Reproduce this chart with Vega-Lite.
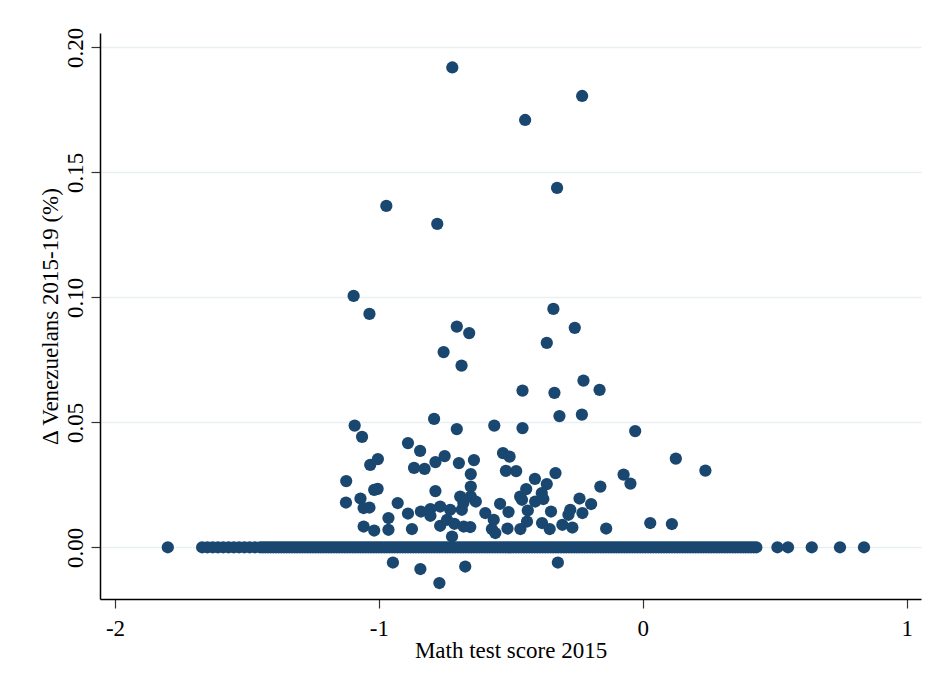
{
  "$schema": "https://vega.github.io/schema/vega-lite/v6.json",
  "autosize": "none",
  "width": 821,
  "height": 566,
  "padding": {"left": 100, "top": 33, "right": 12, "bottom": 83},
  "background": "white",
  "config": {
    "view": {"stroke": null},
    "font": "Liberation Serif",
    "axis": {
      "labelFont": "Liberation Serif",
      "titleFont": "Liberation Serif",
      "labelFontSize": 23,
      "titleFontSize": 23,
      "titleFontWeight": "normal",
      "labelColor": "black",
      "titleColor": "black",
      "domainColor": "black",
      "domainWidth": 1.5,
      "tickColor": "#333333",
      "tickWidth": 1.2,
      "tickSize": 9,
      "labelPadding": 9
    }
  },
  "data": {
    "values": [
      {"m": -0.722, "v": 0.192}, {"m": -0.230, "v": 0.1806}, {"m": -0.446, "v": 0.171}, {"m": -0.325, "v": 0.1438},
      {"m": -0.972, "v": 0.1366}, {"m": -0.779, "v": 0.1294}, {"m": -1.096, "v": 0.1006}, {"m": -1.036, "v": 0.0934},
      {"m": -0.339, "v": 0.0954}, {"m": -0.705, "v": 0.0883}, {"m": -0.658, "v": 0.0857}, {"m": -0.755, "v": 0.0781},
      {"m": -0.687, "v": 0.0727}, {"m": -0.258, "v": 0.0878}, {"m": -0.364, "v": 0.0818}, {"m": -0.225, "v": 0.0667},
      {"m": -0.456, "v": 0.0627}, {"m": -0.335, "v": 0.0618}, {"m": -0.164, "v": 0.063}, {"m": -0.316, "v": 0.0525},
      {"m": -0.231, "v": 0.0531}, {"m": -0.791, "v": 0.0514}, {"m": -1.092, "v": 0.0487}, {"m": -1.064, "v": 0.0442},
      {"m": -0.705, "v": 0.0473}, {"m": -0.563, "v": 0.0487}, {"m": -0.456, "v": 0.0477}, {"m": -0.029, "v": 0.0465},
      {"m": 0.125, "v": 0.0355}, {"m": 0.237, "v": 0.0307}, {"m": -0.890, "v": 0.0417}, {"m": -0.844, "v": 0.0386},
      {"m": -1.033, "v": 0.033}, {"m": -1.004, "v": 0.0353}, {"m": -0.867, "v": 0.0318}, {"m": -0.827, "v": 0.0314},
      {"m": -0.786, "v": 0.0341}, {"m": -0.751, "v": 0.0365}, {"m": -0.697, "v": 0.0337}, {"m": -0.640, "v": 0.0349},
      {"m": -0.652, "v": 0.0293}, {"m": -0.530, "v": 0.0377}, {"m": -0.505, "v": 0.0363}, {"m": -0.519, "v": 0.0306},
      {"m": -0.480, "v": 0.0305}, {"m": -0.331, "v": 0.0297}, {"m": -0.409, "v": 0.0274}, {"m": -0.364, "v": 0.0253},
      {"m": -0.161, "v": 0.0243}, {"m": -0.073, "v": 0.0291}, {"m": -0.047, "v": 0.0255}, {"m": -1.124, "v": 0.0265},
      {"m": -1.018, "v": 0.023}, {"m": -1.005, "v": 0.0234}, {"m": -1.125, "v": 0.0179}, {"m": -1.070, "v": 0.0195},
      {"m": -1.058, "v": 0.0157}, {"m": -1.036, "v": 0.0159}, {"m": -0.929, "v": 0.0177}, {"m": -0.890, "v": 0.0135},
      {"m": -0.841, "v": 0.0143}, {"m": -0.805, "v": 0.0153}, {"m": -0.805, "v": 0.0126}, {"m": -0.786, "v": 0.0225},
      {"m": -0.768, "v": 0.0163}, {"m": -0.730, "v": 0.015}, {"m": -0.692, "v": 0.0203}, {"m": -0.680, "v": 0.0177},
      {"m": -0.652, "v": 0.0243}, {"m": -0.652, "v": 0.0203}, {"m": -0.633, "v": 0.0183}, {"m": -0.686, "v": 0.015},
      {"m": -0.597, "v": 0.0137}, {"m": -0.541, "v": 0.0174}, {"m": -0.509, "v": 0.0141}, {"m": -0.565, "v": 0.011},
      {"m": -0.465, "v": 0.0203}, {"m": -0.458, "v": 0.019}, {"m": -0.442, "v": 0.0233}, {"m": -0.383, "v": 0.0217},
      {"m": -0.377, "v": 0.0193}, {"m": -0.408, "v": 0.0183}, {"m": -0.436, "v": 0.0147}, {"m": -0.348, "v": 0.0143},
      {"m": -0.275, "v": 0.015}, {"m": -0.240, "v": 0.0195}, {"m": -0.196, "v": 0.0173}, {"m": -0.229, "v": 0.0137},
      {"m": -0.282, "v": 0.013}, {"m": -1.058, "v": 0.0083}, {"m": -1.018, "v": 0.0067}, {"m": -0.964, "v": 0.0117},
      {"m": -0.964, "v": 0.007}, {"m": -0.875, "v": 0.0073}, {"m": -0.768, "v": 0.0086}, {"m": -0.742, "v": 0.011},
      {"m": -0.714, "v": 0.0094}, {"m": -0.654, "v": 0.0081}, {"m": -0.679, "v": 0.0083}, {"m": -0.572, "v": 0.0073},
      {"m": -0.559, "v": 0.0057}, {"m": -0.513, "v": 0.0075}, {"m": -0.464, "v": 0.0073}, {"m": -0.439, "v": 0.0103},
      {"m": -0.382, "v": 0.0097}, {"m": -0.353, "v": 0.0073}, {"m": -0.305, "v": 0.009}, {"m": -0.267, "v": 0.0079},
      {"m": -0.139, "v": 0.0075}, {"m": 0.028, "v": 0.0097}, {"m": 0.110, "v": 0.0093}, {"m": -0.723, "v": 0.0043},
      {"m": -0.947, "v": -0.0061}, {"m": -0.843, "v": -0.0087}, {"m": -0.771, "v": -0.0143}, {"m": -0.673, "v": -0.0077},
      {"m": -0.322, "v": -0.0061},
      {"m": -1.80, "v": 0}, {"m": -1.67, "v": 0}, {"m": -1.65, "v": 0}, {"m": -1.63, "v": 0}, {"m": -1.61, "v": 0},
      {"m": -1.59, "v": 0}, {"m": -1.57, "v": 0}, {"m": -1.55, "v": 0}, {"m": -1.53, "v": 0}, {"m": -1.51, "v": 0},
      {"m": -1.49, "v": 0}, {"m": -1.47, "v": 0}, {"m": -1.45, "v": 0}, {"m": -1.43, "v": 0}, {"m": -1.41, "v": 0},
      {"m": -1.39, "v": 0}, {"m": -1.37, "v": 0}, {"m": -1.35, "v": 0}, {"m": -1.33, "v": 0}, {"m": -1.31, "v": 0},
      {"m": -1.29, "v": 0}, {"m": -1.27, "v": 0}, {"m": -1.25, "v": 0}, {"m": -1.23, "v": 0}, {"m": -1.21, "v": 0},
      {"m": -1.19, "v": 0}, {"m": -1.17, "v": 0}, {"m": -1.15, "v": 0}, {"m": -1.13, "v": 0}, {"m": -1.11, "v": 0},
      {"m": -1.09, "v": 0}, {"m": -1.07, "v": 0}, {"m": -1.05, "v": 0}, {"m": -1.03, "v": 0}, {"m": -1.01, "v": 0},
      {"m": -0.99, "v": 0}, {"m": -0.97, "v": 0}, {"m": -0.95, "v": 0}, {"m": -0.93, "v": 0}, {"m": -0.91, "v": 0},
      {"m": -0.89, "v": 0}, {"m": -0.87, "v": 0}, {"m": -0.85, "v": 0}, {"m": -0.83, "v": 0}, {"m": -0.81, "v": 0},
      {"m": -0.79, "v": 0}, {"m": -0.77, "v": 0}, {"m": -0.75, "v": 0}, {"m": -0.73, "v": 0}, {"m": -0.71, "v": 0},
      {"m": -0.69, "v": 0}, {"m": -0.67, "v": 0}, {"m": -0.65, "v": 0}, {"m": -0.63, "v": 0}, {"m": -0.61, "v": 0},
      {"m": -0.59, "v": 0}, {"m": -0.57, "v": 0}, {"m": -0.55, "v": 0}, {"m": -0.53, "v": 0}, {"m": -0.51, "v": 0},
      {"m": -0.49, "v": 0}, {"m": -0.47, "v": 0}, {"m": -0.45, "v": 0}, {"m": -0.43, "v": 0}, {"m": -0.41, "v": 0},
      {"m": -0.39, "v": 0}, {"m": -0.37, "v": 0}, {"m": -0.35, "v": 0}, {"m": -0.33, "v": 0}, {"m": -0.31, "v": 0},
      {"m": -0.29, "v": 0}, {"m": -0.27, "v": 0}, {"m": -0.25, "v": 0}, {"m": -0.23, "v": 0}, {"m": -0.21, "v": 0},
      {"m": -0.19, "v": 0}, {"m": -0.17, "v": 0}, {"m": -0.15, "v": 0}, {"m": -0.13, "v": 0}, {"m": -0.11, "v": 0},
      {"m": -0.09, "v": 0}, {"m": -0.07, "v": 0}, {"m": -0.05, "v": 0}, {"m": -0.03, "v": 0}, {"m": -0.01, "v": 0},
      {"m": 0.01, "v": 0}, {"m": 0.03, "v": 0}, {"m": 0.05, "v": 0}, {"m": 0.07, "v": 0}, {"m": 0.09, "v": 0},
      {"m": 0.11, "v": 0}, {"m": 0.13, "v": 0}, {"m": 0.15, "v": 0}, {"m": 0.17, "v": 0}, {"m": 0.19, "v": 0},
      {"m": 0.21, "v": 0}, {"m": 0.23, "v": 0}, {"m": 0.25, "v": 0}, {"m": 0.27, "v": 0}, {"m": 0.29, "v": 0},
      {"m": 0.31, "v": 0}, {"m": 0.33, "v": 0}, {"m": 0.35, "v": 0}, {"m": 0.37, "v": 0}, {"m": 0.39, "v": 0},
      {"m": 0.41, "v": 0}, {"m": 0.43, "v": 0},
      {"m": -1.44, "v": 0}, {"m": -1.42, "v": 0}, {"m": -1.40, "v": 0}, {"m": -1.38, "v": 0}, {"m": -1.36, "v": 0},
      {"m": -1.34, "v": 0}, {"m": -1.32, "v": 0}, {"m": -1.30, "v": 0}, {"m": -1.28, "v": 0}, {"m": -1.26, "v": 0},
      {"m": -1.24, "v": 0}, {"m": -1.22, "v": 0}, {"m": -1.20, "v": 0}, {"m": -1.18, "v": 0}, {"m": -1.16, "v": 0},
      {"m": -1.14, "v": 0}, {"m": -1.12, "v": 0}, {"m": -1.10, "v": 0}, {"m": -1.08, "v": 0}, {"m": -1.06, "v": 0},
      {"m": -1.04, "v": 0}, {"m": -1.02, "v": 0}, {"m": -1.00, "v": 0}, {"m": -0.98, "v": 0}, {"m": -0.96, "v": 0},
      {"m": -0.94, "v": 0}, {"m": -0.92, "v": 0}, {"m": -0.90, "v": 0}, {"m": -0.88, "v": 0}, {"m": -0.86, "v": 0},
      {"m": -0.84, "v": 0}, {"m": -0.82, "v": 0}, {"m": -0.80, "v": 0}, {"m": -0.78, "v": 0}, {"m": -0.76, "v": 0},
      {"m": -0.74, "v": 0}, {"m": -0.72, "v": 0}, {"m": -0.70, "v": 0}, {"m": -0.68, "v": 0}, {"m": -0.66, "v": 0},
      {"m": -0.64, "v": 0}, {"m": -0.62, "v": 0}, {"m": -0.60, "v": 0}, {"m": -0.58, "v": 0}, {"m": -0.56, "v": 0},
      {"m": -0.54, "v": 0}, {"m": -0.52, "v": 0}, {"m": -0.50, "v": 0}, {"m": -0.48, "v": 0}, {"m": -0.46, "v": 0},
      {"m": -0.44, "v": 0}, {"m": -0.42, "v": 0}, {"m": -0.40, "v": 0}, {"m": -0.38, "v": 0}, {"m": -0.36, "v": 0},
      {"m": -0.34, "v": 0}, {"m": -0.32, "v": 0}, {"m": -0.30, "v": 0}, {"m": -0.28, "v": 0}, {"m": -0.26, "v": 0},
      {"m": -0.24, "v": 0}, {"m": -0.22, "v": 0}, {"m": -0.20, "v": 0}, {"m": -0.18, "v": 0}, {"m": -0.16, "v": 0},
      {"m": -0.14, "v": 0}, {"m": -0.12, "v": 0}, {"m": -0.10, "v": 0}, {"m": -0.08, "v": 0}, {"m": -0.06, "v": 0},
      {"m": -0.04, "v": 0}, {"m": -0.02, "v": 0}, {"m": 0.00, "v": 0}, {"m": 0.02, "v": 0}, {"m": 0.04, "v": 0},
      {"m": 0.06, "v": 0}, {"m": 0.08, "v": 0}, {"m": 0.10, "v": 0}, {"m": 0.12, "v": 0}, {"m": 0.14, "v": 0},
      {"m": 0.16, "v": 0}, {"m": 0.18, "v": 0}, {"m": 0.20, "v": 0}, {"m": 0.22, "v": 0}, {"m": 0.24, "v": 0},
      {"m": 0.26, "v": 0}, {"m": 0.28, "v": 0}, {"m": 0.30, "v": 0}, {"m": 0.32, "v": 0}, {"m": 0.34, "v": 0},
      {"m": 0.36, "v": 0}, {"m": 0.38, "v": 0}, {"m": 0.40, "v": 0}, {"m": 0.42, "v": 0},
      {"m": 0.51, "v": 0}, {"m": 0.55, "v": 0}, {"m": 0.64, "v": 0}, {"m": 0.747, "v": 0}, {"m": 0.838, "v": 0}
    ]
  },
  "mark": {"type": "point", "filled": true, "shape": "circle", "size": 150, "color": "#1a476f", "opacity": 1},
  "encoding": {
    "x": {
      "field": "m",
      "type": "quantitative",
      "scale": {"domain": [-2.057, 1.054], "nice": false, "zero": false},
      "axis": {
        "title": "Math test score 2015",
        "values": [-2, -1, 0, 1],
        "labelExpr": "datum.value + ''",
        "grid": false,
        "titleY": 58,
        "titleBaseline": "alphabetic"
      }
    },
    "y": {
      "field": "v",
      "type": "quantitative",
      "scale": {"domain": [-0.0207, 0.2058], "nice": false, "zero": false},
      "axis": {
        "title": "Δ Venezuelans 2015-19 (%)",
        "values": [0, 0.05, 0.1, 0.15, 0.2],
        "format": ".2f",
        "labelAngle": -90,
        "labelAlign": "center",
        "labelBaseline": "alphabetic",
        "grid": true,
        "gridColor": "#e9f0f2",
        "gridWidth": 1.5,
        "titleX": -43,
        "titleBaseline": "alphabetic"
      }
    }
  }
}
